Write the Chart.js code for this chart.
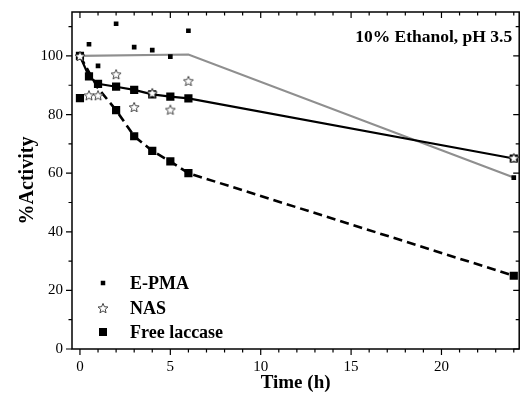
<!DOCTYPE html>
<html>
<head>
<meta charset="utf-8">
<script src="https://cdn.jsdelivr.net/npm/chart.js@4/dist/chart.umd.min.js"></script>
<style>
  html, body { margin: 0; padding: 0; background: #fff; }
  #wrap { width: 525px; height: 393px; }
</style>
</head>
<body>
<div id="wrap"><canvas id="activityChart" width="525" height="393"></canvas></div>
<script>
// values
const epmaTime = [0, 0.5, 1, 2, 3, 4, 5, 6, 24];
const epmaVals = [100, 104, 96.6, 111, 103, 102, 99.8, 108.6, 58.5];

const nasTime = [0, 0.5, 1, 2, 3, 4, 5, 6, 24];
const nasVals = [100, 86.6, 86.6, 93.8, 82.6, 87.4, 81.7, 91.5, 65.2];

const freeTime = [0, 2, 3, 4, 5, 6, 24];
const freeVals = [85.6, 81.5, 72.6, 67.6, 64, 60, 25];

// fitted curves
const epmaFitTime = [0, 6, 24];
const epmaFitVals = [100, 100.5, 58.5];
const solidFitTime = [0, 0.5, 1, 2, 3, 4, 5, 6, 24];
const solidFitVals = [100, 93, 90.5, 89.5, 88.4, 86.9, 86.1, 85.5, 65];
const freeFitTime = [0, 1, 2, 3, 4, 5, 6, 24];
const freeFitVals = [100, 89, 81.5, 72.6, 67.6, 64, 60, 25];

const xTicks = [0, 5, 10, 15, 20];
const yTicks = [0, 20, 40, 60, 80, 100];
const xMinor = [1, 2, 3, 4, 6, 7, 8, 9, 11, 12, 13, 14, 16, 17, 18, 19, 21, 22, 23, 24];
const yMinor = [10, 30, 50, 70, 90, 110];

const legendItems = ["E-PMA", "NAS", "Free laccase"];
const noteText = "10% Ethanol, pH 3.5";

const serif = "'Liberation Serif', 'Times New Roman', serif";

function pts(xs, ys) {
    return xs.map((x, i) => ({x: x, y: ys[i]}));
}

function makeStar(size) {
    const c = document.createElement("canvas");
    c.width = size; c.height = size;
    const g = c.getContext("2d");
    const cx = size / 2, cy = size / 2 + 0.6, R = size / 2 - 0.8, r = R * 0.45;
    g.beginPath();
    for (let i = 0; i < 10; i++) {
        const a = -Math.PI / 2 + i * Math.PI / 5;
        const rr = i % 2 ? r : R;
        g.lineTo(cx + rr * Math.cos(a), cy + rr * Math.sin(a));
    }
    g.closePath();
    g.fillStyle = "#fff";
    g.fill();
    g.strokeStyle = "#444";
    g.lineWidth = 1;
    g.stroke();
    return c;
}
const starImg = makeStar(12);

function square(ctx, x, y, side) {
    ctx.fillStyle = "#000";
    ctx.fillRect(x - side / 2, y - side / 2, side, side);
}

// frame, minor ticks, inward ticks on top/right, legend and note
const decor = {
    id: "decor",
    afterDraw(chart) {
        const ctx = chart.ctx;
        const a = chart.chartArea;
        const xs = chart.scales.x, ys = chart.scales.y;
        ctx.save();
        ctx.strokeStyle = "#000";
        ctx.lineWidth = 1.5;
        ctx.strokeRect(a.left, a.top, a.right - a.left, a.bottom - a.top);

        ctx.lineWidth = 1.2;
        ctx.beginPath();
        xTicks.forEach(v => {
            const p = xs.getPixelForValue(v);
            ctx.moveTo(p, a.bottom); ctx.lineTo(p, a.bottom + 6);
            ctx.moveTo(p, a.top); ctx.lineTo(p, a.top + 6);
        });
        xMinor.forEach(v => {
            const p = xs.getPixelForValue(v);
            ctx.moveTo(p, a.bottom); ctx.lineTo(p, a.bottom + 3.5);
            ctx.moveTo(p, a.top); ctx.lineTo(p, a.top + 3.5);
        });
        yTicks.forEach(v => {
            const p = ys.getPixelForValue(v);
            ctx.moveTo(a.left, p); ctx.lineTo(a.left - 6, p);
            ctx.moveTo(a.right, p); ctx.lineTo(a.right - 6, p);
        });
        yMinor.forEach(v => {
            const p = ys.getPixelForValue(v);
            ctx.moveTo(a.left, p); ctx.lineTo(a.left - 3.5, p);
            ctx.moveTo(a.right, p); ctx.lineTo(a.right - 3.5, p);
        });
        ctx.stroke();

        // legend
        ctx.font = "bold 18px " + serif;
        ctx.textBaseline = "middle";
        ctx.textAlign = "left";
        ctx.fillStyle = "#000";
        const lx = a.left + 31, tx = a.left + 58;
        const ly = [283, 308, 332];
        square(ctx, lx, ly[0], 4.5);
        ctx.drawImage(starImg, lx - 6, ly[1] - 6);
        square(ctx, lx, ly[2], 8);
        legendItems.forEach((t, i) => ctx.fillText(t, tx, ly[i] + 1));

        // condition note
        ctx.font = "bold 17.5px " + serif;
        ctx.textAlign = "right";
        ctx.fillText(noteText, a.right - 7, a.top + 25);
        ctx.restore();
    }
};

new Chart(document.getElementById("activityChart"), {
    type: "scatter",
    data: {
        datasets: [
            {
                label: "E-PMA",
                data: pts(epmaTime, epmaVals),
                showLine: false,
                pointStyle: "rect",
                pointRadius: 3.3,
                backgroundColor: "#000",
                borderColor: "#000",
                borderWidth: 0,
                order: 1
            },
            {
                label: "NAS",
                data: pts(nasTime, nasVals),
                showLine: false,
                pointStyle: starImg,
                order: 0
            },
            {
                label: "Free laccase",
                data: pts(freeTime, freeVals),
                showLine: false,
                pointStyle: "rect",
                pointRadius: 5.8,
                backgroundColor: "#000",
                borderColor: "#000",
                borderWidth: 0,
                order: 2
            },
            {
                label: "E-PMA fit",
                data: pts(epmaFitTime, epmaFitVals),
                showLine: true,
                borderColor: "#8f8f8f",
                borderWidth: 2.2,
                pointRadius: 0,
                order: 5
            },
            {
                label: "NAS fit",
                data: pts(solidFitTime, solidFitVals),
                showLine: true,
                borderColor: "#000",
                borderWidth: 2.2,
                pointStyle: "rect",
                pointRadius: 5.8,
                backgroundColor: "#000",
                pointBorderWidth: 0,
                order: 3
            },
            {
                label: "Free laccase fit",
                data: pts(freeFitTime, freeFitVals),
                showLine: true,
                borderColor: "#000",
                borderWidth: 2.6,
                borderDash: [9, 5],
                pointRadius: 0,
                order: 4
            }
        ]
    },
    options: {
        responsive: false,
        animation: false,
        layout: { padding: { top: 12, right: 3, left: 0, bottom: 0 } },
        plugins: {
            legend: { display: false },
            tooltip: { enabled: false }
        },
        scales: {
            x: {
                type: "linear",
                min: -0.44,
                max: 24.3,
                afterBuildTicks: s => { s.ticks = xTicks.map(v => ({value: v})); },
                afterFit: s => { s.height = 44; },
                grid: { display: true, drawOnChartArea: false, tickLength: 6, tickColor: "rgba(0,0,0,0)" },
                border: { display: false },
                ticks: { color: "#000", font: { family: serif, size: 15 }, padding: 3, maxRotation: 0 },
                title: {
                    display: true,
                    text: "Time (h)",
                    color: "#000",
                    font: { family: serif, size: 19, weight: "bold", lineHeight: 1 },
                    padding: { top: 0, bottom: 0 }
                }
            },
            y: {
                type: "linear",
                min: 0,
                max: 115,
                afterBuildTicks: s => { s.ticks = yTicks.map(v => ({value: v})); },
                afterFit: s => { s.width = 72; },
                grid: { display: true, drawOnChartArea: false, tickLength: 6, tickColor: "rgba(0,0,0,0)" },
                border: { display: false },
                ticks: { color: "#000", font: { family: serif, size: 15 }, padding: 3 },
                title: {
                    display: true,
                    text: "%Activity",
                    color: "#000",
                    font: { family: serif, size: 20, weight: "bold", lineHeight: 1.2 },
                    padding: { top: 16, bottom: 0 }
                }
            }
        }
    },
    plugins: [decor]
});
</script>
</body>
</html>
